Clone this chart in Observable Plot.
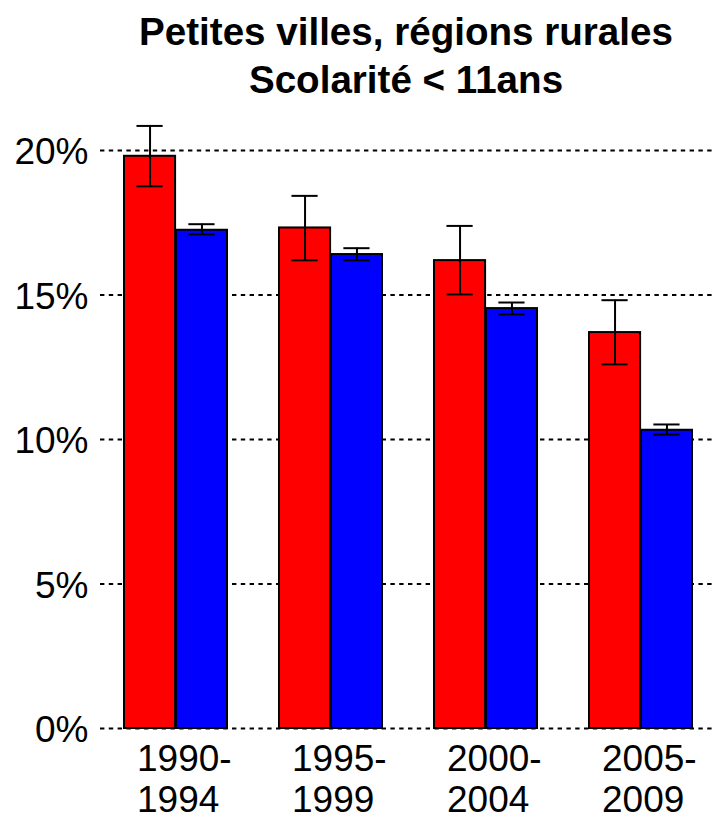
<!DOCTYPE html>
<html><head><meta charset="utf-8">
<script src="https://cdn.jsdelivr.net/npm/d3@7"></script>
<script src="https://cdn.jsdelivr.net/npm/@observablehq/plot@0.6"></script>
<style>
body{margin:0;background:#fff;font-family:"Liberation Sans",Arial,sans-serif;}
#title{padding:8px 0 0 100px;width:612px;text-align:center;font-weight:bold;font-size:38.6px;line-height:48px;height:96px;color:#000;white-space:nowrap;}
</style></head><body>
<div id="title">Petites villes, régions rurales<br>Scolarité &lt; 11ans</div>
<div id="chart"></div>
<script>
const periods = ["1990-1994", "1995-1999", "2000-2004", "2005-2009"];
const periodLabels = ["1990-\n1994", "1995-\n1999", "2000-\n2004", "2005-\n2009"];
const redValues = [19.80, 17.32, 16.19, 13.70];
const redLow = [18.76, 16.20, 15.02, 12.60];
const redHigh = [20.85, 18.43, 17.39, 14.82];
const blueValues = [17.24, 16.40, 14.53, 10.32];
const blueLow = [17.10, 16.20, 14.33, 10.17];
const blueHigh = [17.45, 16.62, 14.74, 10.52];
const yTicks = [0, 5, 10, 15, 20];

const red = periods.map((p, i) => ({period: p, value: redValues[i], low: redLow[i], high: redHigh[i]}));
const blue = periods.map((p, i) => ({period: p, value: blueValues[i], low: blueLow[i], high: blueHigh[i]}));

const xRange = [123, 694];
const bw = d3.scaleBand().domain(periods).range(xRange).paddingInner(1/3).paddingOuter(0).bandwidth();
const half = bw / 2;
const capHalf = 13.5;
const fs = 37;

const plot = Plot.plot({
  width: 712,
  height: 716,
  marginTop: 46,
  marginBottom: 92,
  marginLeft: 100,
  marginRight: 0,
  style: {fontFamily: "Liberation Sans, Arial, sans-serif", color: "#000", background: "#fff"},
  x: {domain: periods, range: xRange, paddingInner: 1/3, paddingOuter: 0, axis: null},
  y: {domain: [0, 20], axis: null},
  marks: [
    Plot.ruleY(yTicks, {stroke: "#000", strokeWidth: 2, strokeDasharray: "4.4,4.4"}),
    Plot.barY(red, {x: "period", y: "value", fill: "#FF0000", stroke: "#000", strokeWidth: 2, insetRight: half}),
    Plot.barY(blue, {x: "period", y: "value", fill: "#0000FF", stroke: "#000", strokeWidth: 2, insetLeft: half}),
    Plot.ruleX(red, {x: "period", y1: "low", y2: "high", stroke: "#000", strokeWidth: 2, dx: -half / 2}),
    Plot.ruleX(blue, {x: "period", y1: "low", y2: "high", stroke: "#000", strokeWidth: 2, dx: half / 2}),
    Plot.tickY(red, {x: "period", y: "high", stroke: "#000", strokeWidth: 2, insetLeft: half/2 - capHalf, insetRight: bw - half/2 - capHalf}),
    Plot.tickY(red, {x: "period", y: "low", stroke: "#000", strokeWidth: 2, insetLeft: half/2 - capHalf, insetRight: bw - half/2 - capHalf}),
    Plot.tickY(blue, {x: "period", y: "high", stroke: "#000", strokeWidth: 2, insetLeft: half*1.5 - capHalf, insetRight: half/2 - capHalf}),
    Plot.tickY(blue, {x: "period", y: "low", stroke: "#000", strokeWidth: 2, insetLeft: half*1.5 - capHalf, insetRight: half/2 - capHalf}),
    Plot.axisY(yTicks, {tickSize: 0, tickPadding: 12, tickFormat: d => d + "%", fontSize: fs, label: null, dy: 2}),
    Plot.axisX(periods, {tickSize: 0, tickPadding: 13, tickFormat: d => periodLabels[periods.indexOf(d)], fontSize: fs, lineHeight: 1.12, textAnchor: "start", dx: -39, label: null})
  ]
});
document.getElementById("chart").appendChild(plot);
</script>
</body></html>
